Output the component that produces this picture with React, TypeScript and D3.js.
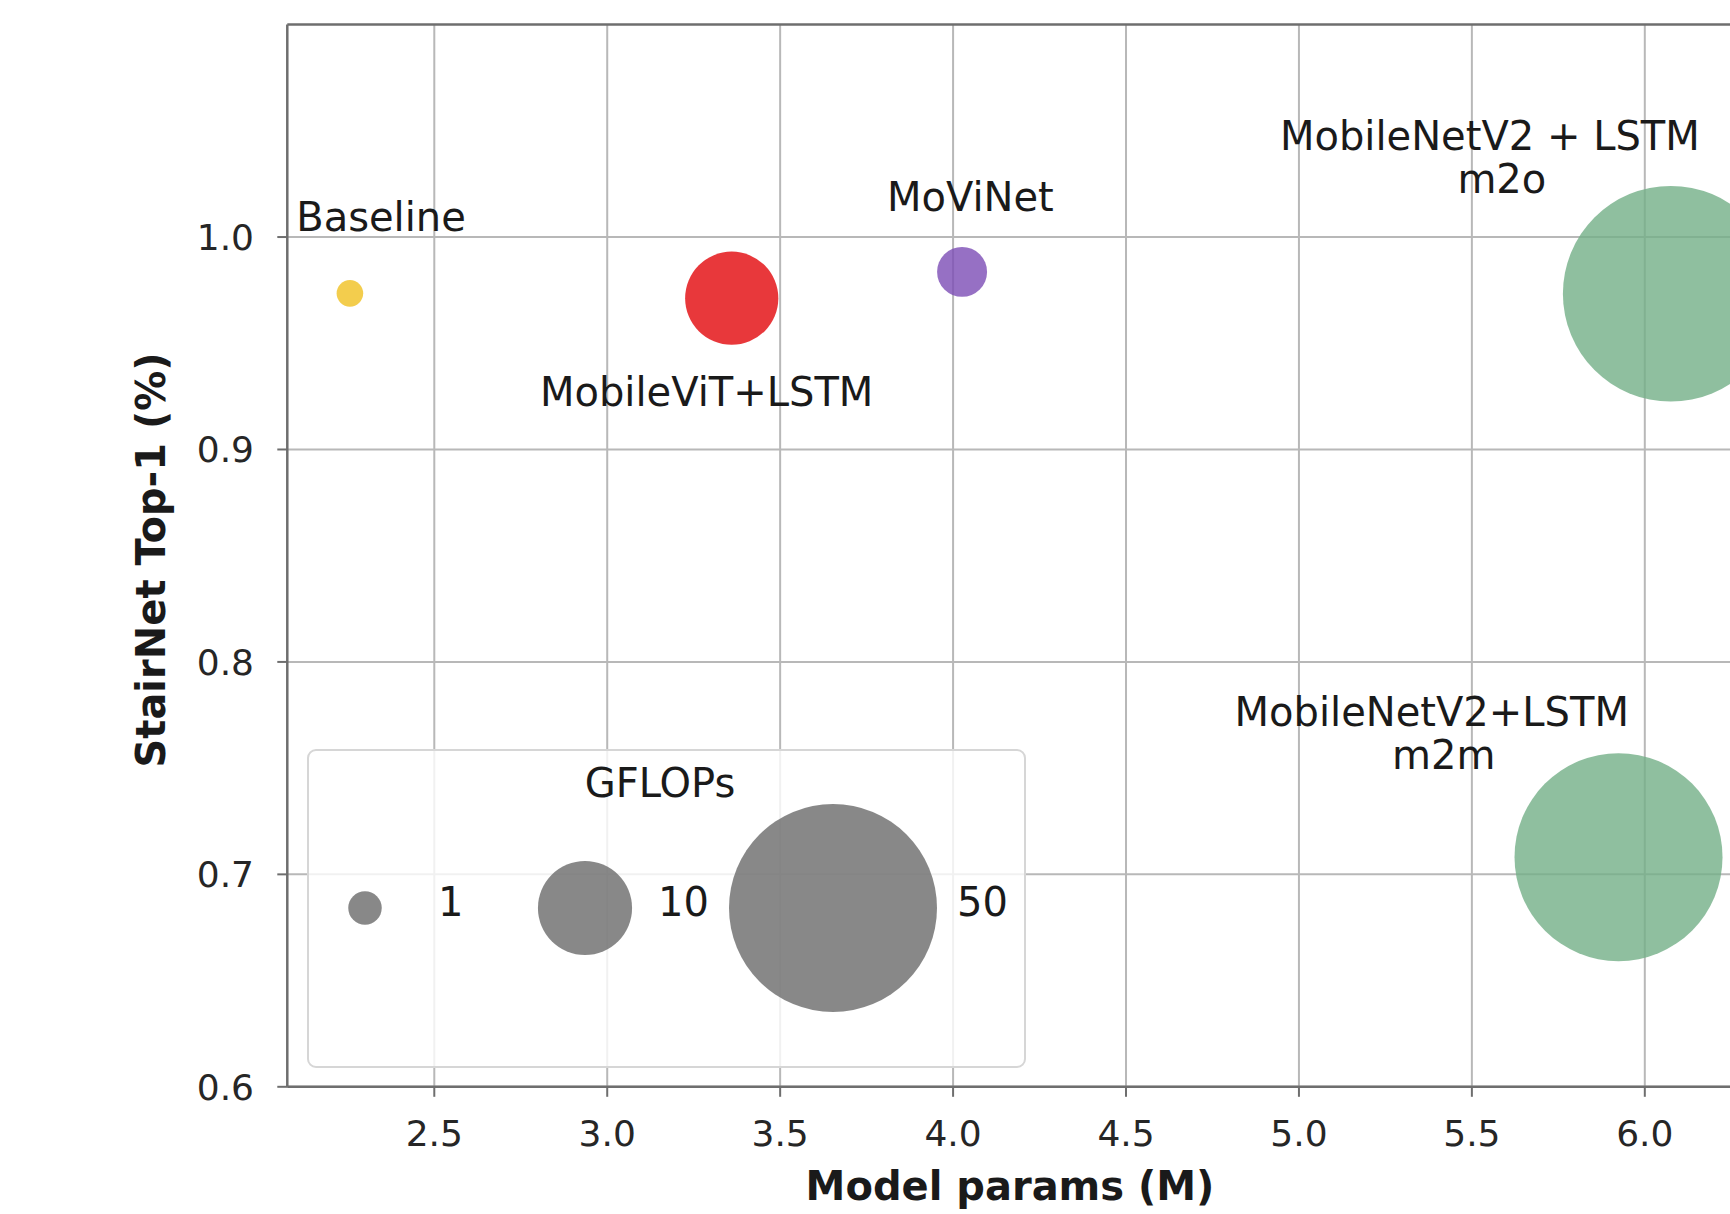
import React from "react";
import * as d3 from "d3";

// models, one entry per bubble
const models = ["Baseline", "MobileViT+LSTM", "MoViNet", "MobileNetV2 + LSTM\nm2o", "MobileNetV2+LSTM\nm2m"];
const params = [2.256, 3.36, 4.026, 6.075, 5.924];        // Model params (M)
const top1 = [0.9735, 0.9712, 0.9836, 0.9733, 0.7081];    // StairNet Top-1
const gflops = [0.52, 9.8, 2.6, 53.8, 50];                // bubble size
const colors = ["#f0c021", "#e2060a", "#7c4cb5", "#73af87", "#73af87"];

// where the annotation text sits, in data units (centre x, first-line baseline y)
const labelParams = [2.346, 3.2875, 4.05, 5.552, 5.384];
const labelTop1 = [1.0028, 0.9205, 1.0122, 1.041, 0.7698];

const xTicks = [2.5, 3.0, 3.5, 4.0, 4.5, 5.0, 5.5, 6.0];
const yTicks = [0.6, 0.7, 0.8, 0.9, 1.0];
const legendSizes = [1, 10, 50];

const W = 1730, H = 1214;
const left = 287.3, right = 1733, top = 24.6, bottom = 1086.8;

const font = "'DejaVu Sans', sans-serif";

export default function App() {
  const x = d3.scaleLinear().domain([2.075, 6.255]).range([left, right]);
  const y = d3.scaleLinear().domain([0.6, 1.1]).range([bottom, top]);
  // matplotlib-ish marker area (px^2) growing linearly with GFLOPs
  const area = d3.scaleLinear().domain([0, 50]).range([65, 65 + 215 * 50]);
  const r = (g: number) => Math.sqrt(area(g));
  const fmt = d3.format(".1f");

  const gridColor = "#b8b8b8";
  const spine = "#6e6e6e";

  // legend box layout
  const lg = { x: 308, y: 750, w: 717, h: 317 };
  const lgCx = [365, 585, 833];
  const lgTx = [438, 658, 957];
  const lgCy = 908;

  return (
    <svg width={W} height={H} style={{ position: "absolute", left: 0, top: 0, background: "#fff" }}
      fontFamily={font}>
      <defs>
        <clipPath id="plot">
          <rect x={left} y={top} width={right - left} height={bottom - top} />
        </clipPath>
      </defs>
      <rect width={W} height={H} fill="#fff" />

      {/* grid */}
      <g stroke={gridColor} strokeWidth={2}>
        {xTicks.map(t => <line key={"gx" + t} x1={x(t)} x2={x(t)} y1={top} y2={bottom} />)}
        {yTicks.map(t => <line key={"gy" + t} x1={left} x2={right} y1={y(t)} y2={y(t)} />)}
      </g>

      {/* bubbles */}
      <g clipPath="url(#plot)">
        {models.map((m, i) => (
          <circle key={m} cx={x(params[i])} cy={y(top1[i])} r={r(gflops[i])}
            fill={colors[i]} fillOpacity={0.8} />
        ))}
      </g>

      {/* annotations */}
      <g fontSize={40} fill="#1a1a1a" textAnchor="middle">
        {models.map((m, i) => (
          <text key={"l" + m} x={x(labelParams[i])} y={y(labelTop1[i])}>
            {m.split("\n").map((line, j) => (
              <tspan key={j} x={x(labelParams[i]) + (j > 0 ? 12 : 0)} dy={j === 0 ? 0 : 43}>{line}</tspan>
            ))}
          </text>
        ))}
      </g>

      {/* legend */}
      <g>
        <rect x={lg.x} y={lg.y} width={lg.w} height={lg.h} rx={8} fill="#fff" fillOpacity={0.8}
          stroke="#d6d6d6" strokeWidth={2} />
        <text x={660} y={797} fontSize={40} textAnchor="middle" fill="#1a1a1a">GFLOPs</text>
        {legendSizes.map((s, i) => (
          <g key={"lg" + s}>
            <circle cx={lgCx[i]} cy={lgCy} r={r(s)} fill="#6a6a6a" fillOpacity={0.8} />
            <text x={lgTx[i]} y={lgCy} dy="0.21em" fontSize={40} fill="#1a1a1a">{s}</text>
          </g>
        ))}
      </g>

      {/* spines */}
      <g stroke={spine} strokeWidth={2.5} fill="none">
        <line x1={left} x2={left} y1={top} y2={bottom} />
        <line x1={left} x2={right} y1={bottom} y2={bottom} />
        <line x1={left} x2={right} y1={top} y2={top} />
      </g>

      {/* x axis */}
      <g>
        {xTicks.map(t => (
          <g key={"xt" + t}>
            <line x1={x(t)} x2={x(t)} y1={bottom} y2={bottom + 10} stroke={spine} strokeWidth={2} />
            <text x={x(t)} y={1146} fontSize={36} textAnchor="middle" fill="#262626">{fmt(t)}</text>
          </g>
        ))}
        <text x={1010} y={1200} fontSize={40} fontWeight="bold" textAnchor="middle" fill="#1a1a1a">
          Model params (M)
        </text>
      </g>

      {/* y axis */}
      <g>
        {yTicks.map(t => (
          <g key={"yt" + t}>
            <line x1={left - 10} x2={left} y1={y(t)} y2={y(t)} stroke={spine} strokeWidth={2} />
            <text x={254} y={y(t)} dy="0.36em" fontSize={36} textAnchor="end" fill="#262626">{fmt(t)}</text>
          </g>
        ))}
        <text transform={`translate(165, 560) rotate(-90)`} fontSize={40} fontWeight="bold"
          textAnchor="middle" fill="#1a1a1a">StairNet Top-1 (%)</text>
      </g>
    </svg>
  );
}
